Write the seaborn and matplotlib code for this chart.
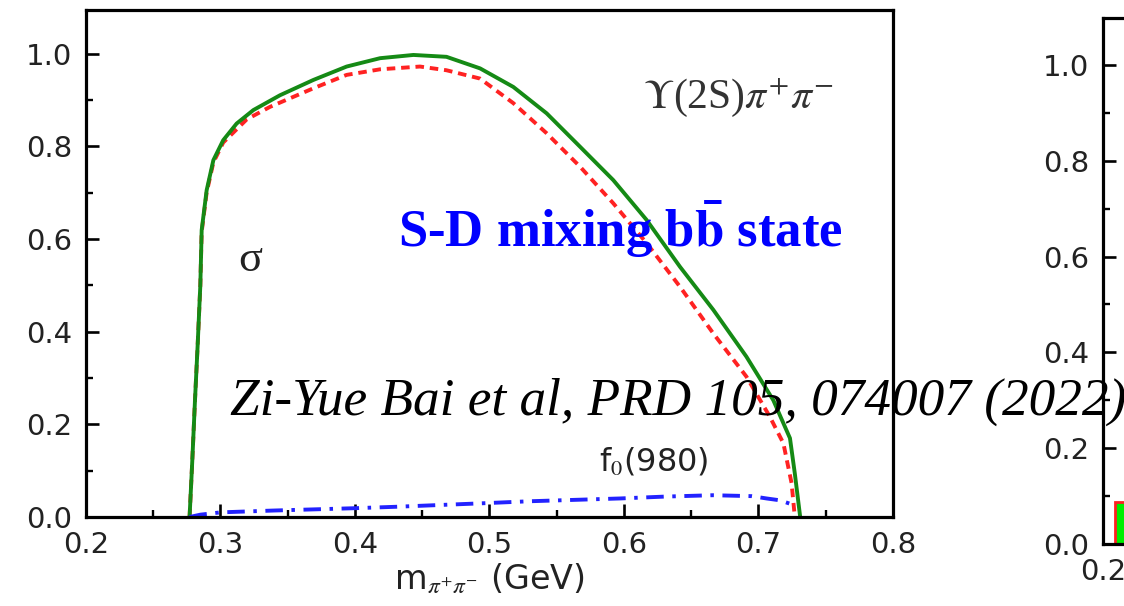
import matplotlib
matplotlib.use("Agg")
import matplotlib.pyplot as plt
import seaborn as sns
import pandas as pd

sns.set_theme(style="white")
plt.rcParams["font.family"] = ["DejaVu Sans"]
plt.rcParams["mathtext.fontset"] = "stix"

# --- Upsilon(3S) -> Upsilon(2S) pi+ pi- : dipion invariant-mass spectrum ---
total_m = [0.277, 0.279, 0.281, 0.283, 0.285, 0.286, 0.2897, 0.2947, 0.302, 0.312,
           0.3244, 0.3442, 0.369, 0.3938, 0.4186, 0.4434, 0.468, 0.493, 0.5177,
           0.5425, 0.5673, 0.592, 0.6168, 0.6416, 0.6664, 0.691, 0.711, 0.7234,
           0.727, 0.731]
total_v = [0.0, 0.12, 0.25, 0.37, 0.50, 0.619, 0.705, 0.770, 0.813, 0.849,
           0.878, 0.910, 0.943, 0.972, 0.990, 0.997, 0.993, 0.968, 0.928,
           0.871, 0.799, 0.727, 0.641, 0.540, 0.447, 0.346, 0.252, 0.170,
           0.094, 0.0]

sigma_m = [0.277, 0.279, 0.281, 0.283, 0.285, 0.286, 0.2897, 0.2947, 0.302, 0.3195,
           0.3368, 0.369, 0.3938, 0.4186, 0.4483, 0.468, 0.493, 0.5177, 0.5425,
           0.5673, 0.592, 0.6168, 0.6416, 0.6664, 0.691, 0.7085, 0.7185, 0.7246,
           0.727]
sigma_v = [0.0, 0.12, 0.25, 0.37, 0.50, 0.615, 0.700, 0.765, 0.808, 0.858,
           0.885, 0.925, 0.954, 0.966, 0.972, 0.964, 0.946, 0.893, 0.828,
           0.756, 0.677, 0.591, 0.497, 0.396, 0.303, 0.216, 0.159, 0.073,
           0.0]

f0_m = [0.277, 0.285, 0.300, 0.340, 0.400, 0.430, 0.498, 0.530, 0.597, 0.630,
        0.666, 0.695, 0.706, 0.716, 0.726]
f0_v = [0.0, 0.005, 0.010, 0.014, 0.019, 0.022, 0.030, 0.034, 0.040, 0.044,
        0.047, 0.045, 0.040, 0.036, 0.026]

# neighbouring panel (only its left edge is in frame)
side_bin_left = [0.209]
side_bin_height = [0.088]

x_ticks = [0.2, 0.3, 0.4, 0.5, 0.6, 0.7, 0.8]
y_ticks = [0.0, 0.2, 0.4, 0.6, 0.8, 1.0]

W, H = 1124, 606
fig = plt.figure(figsize=(W / 100, H / 100), dpi=100)
fig.patch.set_facecolor("white")


def fx(px):
    return px / W


def fy(py):
    return 1 - py / H


tick_color = "#222222"


def style_axes(ax, ylim_top):
    ax.set_facecolor("white")
    ax.set_xlim(0.2, 0.8)
    ax.set_ylim(0.0, ylim_top)
    ax.set_xticks(x_ticks)
    ax.set_yticks(y_ticks)
    ax.set_xticklabels([f"{t:.1f}" for t in x_ticks])
    ax.set_yticklabels([f"{t:.1f}" for t in y_ticks])
    ax.set_xticks([0.25, 0.35, 0.45, 0.55, 0.65, 0.75], minor=True)
    ax.set_yticks([0.1, 0.3, 0.5, 0.7, 0.9], minor=True)
    for sp in ax.spines.values():
        sp.set_visible(True)
        sp.set_color("black")
        sp.set_linewidth(2.3)
    ax.tick_params(which="major", direction="in", length=9.5, width=1.9,
                   color="black", labelsize=21, labelcolor=tick_color, pad=10,
                   bottom=True, left=True, top=False, right=False)
    ax.tick_params(which="minor", direction="in", length=5, width=1.7,
                   color="black", bottom=True, left=True, top=False, right=False)
    ax.grid(False)


# main panel
ax = fig.add_axes([fx(86), fy(517), fx(893 - 86), (517 - 10) / H])
style_axes(ax, 1.094)

total = pd.DataFrame({"m": total_m, "v": total_v})
sig = pd.DataFrame({"m": sigma_m, "v": sigma_v})
f0 = pd.DataFrame({"m": f0_m, "v": f0_v})

sns.lineplot(data=sig, x="m", y="v", ax=ax, color="#ff2222", linewidth=2.8,
             sort=False, estimator=None)
ax.lines[-1].set_dashes((2.2, 1.5))
sns.lineplot(data=total, x="m", y="v", ax=ax, color="#158a15", linewidth=2.8,
             sort=False, estimator=None)
sns.lineplot(data=f0, x="m", y="v", ax=ax, color="#2222ff", linewidth=2.8,
             sort=False, estimator=None)
ax.lines[-1].set_dashes((4.5, 2.2, 0.9, 2.2))
for ln in ax.lines:
    ln.set_clip_on(False)
    ln.set_solid_joinstyle("round")
    ln.set_dash_joinstyle("round")
ax.set_xlabel(r"m$_{\pi^{+}\pi^{-}}$ (GeV)", fontsize=24, color=tick_color,
              labelpad=2)
ax.set_ylabel("")

ax.text(0.322, 0.554, "σ", fontsize=32, family="Liberation Serif",
        color="#222222", ha="center", va="center")
ax.text(0.6848, 0.906, r"$\Upsilon$(2S)$\pi^{+}\pi^{-}$", fontsize=30,
        family="Liberation Serif", color="#333333", ha="center", va="center")
ax.text(0.6223, 0.119, r"f$_0$(980)", fontsize=23, color="#222222",
        ha="center", va="center")

# neighbouring panel, cut by the right edge of the figure
ax2 = fig.add_axes([fx(1103), fy(544), 0.7, (544 - 18) / H])
style_axes(ax2, 1.098)
ax2.bar(side_bin_left, side_bin_height, width=0.05, align="edge",
        color="#00ee00", edgecolor="#ff2020", linewidth=2.0)
ax2.set_xlabel("")
ax2.set_ylabel("")

# slide annotations
fig.text(fx(398), fy(247), r"S-D mixing b$\mathbf{\bar{b}}$ state", fontsize=38,
         family="Liberation Serif", fontweight="bold", color="#0000ff",
         ha="left", va="baseline", zorder=10)
fig.text(fx(230), fy(415), "Zi-Yue Bai et al, PRD 105, 074007 (2022)",
         fontsize=38.3, family="Liberation Serif", style="italic", color="black",
         ha="left", va="baseline", zorder=10)

fig.savefig("out.png", dpi=100, facecolor="white")
